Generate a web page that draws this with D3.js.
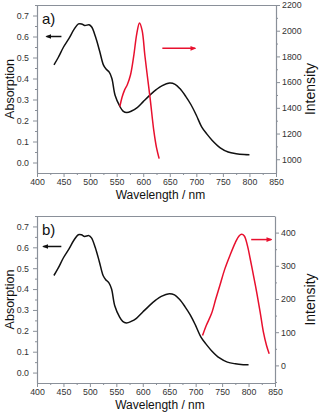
<!DOCTYPE html>
<html>
<head>
<meta charset="utf-8">
<script src="https://cdn.jsdelivr.net/npm/d3@7"></script>
<style>
  body { margin: 0; background: #fff; }
  text { font-family: "Liberation Sans", Arial, sans-serif; }
</style>
</head>
<body>
<div id="chart"></div>
<script>
// absorption spectrum (same dye in both panels)
const absNm = [432, 440, 450, 460, 470, 478, 484, 490, 498, 503, 510, 518, 525, 530, 536, 541, 547, 556, 562, 569, 578, 588, 600, 613, 625, 635, 650, 660, 669, 680, 690, 700, 710, 720, 730, 745, 760, 775, 790, 800];
const absVal = [0.465, 0.50, 0.55, 0.59, 0.635, 0.66, 0.66, 0.652, 0.656, 0.645, 0.60, 0.53, 0.465, 0.445, 0.43, 0.40, 0.32, 0.267, 0.245, 0.238, 0.245, 0.26, 0.29, 0.322, 0.348, 0.365, 0.378, 0.372, 0.352, 0.315, 0.275, 0.225, 0.17, 0.135, 0.105, 0.07, 0.05, 0.042, 0.038, 0.037];

// emission, panel a
const emANm = [556, 560, 565, 570, 576, 582, 588, 593, 598, 603, 608, 613, 620, 625, 630];
const emAVal = [1409, 1480, 1540, 1580, 1655, 1800, 1980, 2060, 2000, 1811, 1640, 1474, 1220, 1090, 1005];

// emission, panel b
const emBNm = [713, 720, 730, 738, 746, 755, 765, 775, 782, 787, 792, 798, 803, 810, 816, 822, 828, 834, 839];
const emBVal = [90, 120, 156, 200, 242, 290, 332, 370, 390, 395, 390, 360, 322, 265, 215, 160, 101, 60, 35];

// tick labels
const xTicks = [400, 450, 500, 550, 600, 650, 700, 750, 800, 850];
const absTicks = [0.0, 0.1, 0.2, 0.3, 0.4, 0.5, 0.6, 0.7];
const intTicksA = [1000, 1200, 1400, 1600, 1800, 2000, 2200];
const intTicksB = [0, 100, 200, 300, 400];

// arrows [from nm, to nm, value]
const arrowAbsA = [446, 418, 0.6];
const arrowEmA = [636, 698, 1863];
const arrowAbsB = [446, 412, 0.604];
const arrowEmB = [805, 843, 379];

const width = 319;
const height = 412;
const red = '#e8102e';
const grey = '#8a9099';

const svg = d3.select('#chart')
  .append('svg')
  .attr('width', width)
  .attr('height', height);

svg.append('defs').selectAll('marker')
  .data([['headK', '#111'], ['headR', red]])
  .join('marker')
    .attr('id', d => d[0])
    .attr('viewBox', '0 0 10 10')
    .attr('refX', 8).attr('refY', 5)
    .attr('markerWidth', 4).attr('markerHeight', 4)
    .attr('orient', 'auto')
  .append('path')
    .attr('d', 'M0,1 L10,5 L0,9 Z')
    .attr('fill', d => d[1]);

function drawPanel(p) {
  const g = svg.append('g');

  const x = d3.scaleLinear().domain([400, 850]).range([p.left, p.right]);
  const yL = d3.scaleLinear().domain([-0.05, 0.75]).range([p.bottom, p.top]);
  const yR = d3.scaleLinear().domain(p.rDomain).range([p.bottom, p.top]);

  // top frame
  g.append('line')
    .attr('x1', p.left).attr('x2', p.right)
    .attr('y1', p.top + 0.5).attr('y2', p.top + 0.5)
    .attr('stroke', grey).attr('stroke-width', 1.2);

  function styleAxis(a) {
    a.select('.domain').attr('stroke', grey).attr('stroke-width', 1.2);
    a.selectAll('.tick line').attr('stroke', grey);
    a.selectAll('.tick text').attr('fill', '#333').attr('font-size', '8.8px')
      .attr('font-family', '"Liberation Sans", Arial, sans-serif');
  }

  // minor ticks
  const xMinor = d3.range(425, 850, 50);
  g.append('g').attr('transform', `translate(0,${p.bottom})`)
    .call(d3.axisBottom(x).tickValues(xMinor).tickSize(2).tickFormat(''))
    .call(a => a.select('.domain').remove())
    .call(styleAxis);
  g.append('g').attr('transform', `translate(${p.left},0)`)
    .call(d3.axisLeft(yL).tickValues(absTicks.map(v => v + 0.05)).tickSize(2).tickFormat(''))
    .call(a => a.select('.domain').remove())
    .call(styleAxis);
  g.append('g').attr('transform', `translate(${p.right},0)`)
    .call(d3.axisRight(yR).tickValues(p.rMinor).tickSize(2).tickFormat(''))
    .call(a => a.select('.domain').remove())
    .call(styleAxis);

  // major axes
  g.append('g').attr('transform', `translate(0,${p.bottom})`)
    .call(d3.axisBottom(x).tickValues(xTicks).tickSize(4).tickSizeOuter(0).tickPadding(2).tickFormat(d3.format('d')))
    .call(styleAxis);
  g.append('g').attr('transform', `translate(${p.left},0)`)
    .call(d3.axisLeft(yL).tickValues(absTicks).tickSize(4).tickSizeOuter(0).tickPadding(4).tickFormat(d3.format('.1f')))
    .call(styleAxis);
  g.append('g').attr('transform', `translate(${p.right},0)`)
    .call(d3.axisRight(yR).tickValues(p.rTicks).tickSize(4).tickSizeOuter(0).tickPadding(2).tickFormat(d3.format('d')))
    .call(styleAxis);

  // curves
  const absLine = d3.line()
    .x(d => x(d[0])).y(d => yL(d[1]))
    .curve(d3.curveCatmullRom);
  g.append('path')
    .datum(d3.zip(absNm, absVal))
    .attr('d', absLine)
    .attr('fill', 'none').attr('stroke', '#111').attr('stroke-width', 1.5);

  const emLine = d3.line()
    .x(d => x(d[0])).y(d => yR(d[1]))
    .curve(d3.curveCatmullRom);
  g.append('path')
    .datum(d3.zip(p.emNm, p.emVal))
    .attr('d', emLine)
    .attr('fill', 'none').attr('stroke', red).attr('stroke-width', 1.5);

  // arrows
  g.append('line')
    .attr('x1', x(p.arrowAbs[0])).attr('x2', x(p.arrowAbs[1]))
    .attr('y1', yL(p.arrowAbs[2])).attr('y2', yL(p.arrowAbs[2]))
    .attr('stroke', '#111').attr('stroke-width', 1.5)
    .attr('marker-end', 'url(#headK)');
  g.append('line')
    .attr('x1', x(p.arrowEm[0])).attr('x2', x(p.arrowEm[1]))
    .attr('y1', yR(p.arrowEm[2])).attr('y2', yR(p.arrowEm[2]))
    .attr('stroke', red).attr('stroke-width', 1.5)
    .attr('marker-end', 'url(#headR)');

  // labels
  g.append('text')
    .attr('x', p.left + 5).attr('y', p.top + 19)
    .attr('font-size', '15px').attr('fill', '#111')
    .text(p.tag);

  g.append('text')
    .attr('x', (p.left + p.right) / 2 + 4).attr('y', p.bottom + 25.5)
    .attr('text-anchor', 'middle')
    .attr('font-size', '12px').attr('fill', '#111')
    .text('Wavelength / nm');

  g.append('text')
    .attr('transform', `translate(14,${(p.top + p.bottom) / 2}) rotate(-90)`)
    .attr('text-anchor', 'middle')
    .attr('font-size', '12.5px').attr('fill', '#111')
    .text('Absorption');

  g.append('text')
    .attr('transform', `translate(315,${(p.top + p.bottom) / 2}) rotate(-90)`)
    .attr('text-anchor', 'middle')
    .attr('font-size', '14px').attr('fill', '#111')
    .text('Intensity');
}

drawPanel({
  tag: 'a)', left: 37, right: 276, top: 5, bottom: 173,
  rDomain: [893, 2200], rTicks: intTicksA, rMinor: [1100, 1300, 1500, 1700, 1900, 2100],
  emNm: emANm, emVal: emAVal, arrowAbs: arrowAbsA, arrowEm: arrowEmA
});

drawPanel({
  tag: 'b)', left: 37, right: 275, top: 216, bottom: 383,
  rDomain: [-53, 450], rTicks: intTicksB, rMinor: [-50, 50, 150, 250, 350],
  emNm: emBNm, emVal: emBVal, arrowAbs: arrowAbsB, arrowEm: arrowEmB
});
</script>
</body>
</html>
